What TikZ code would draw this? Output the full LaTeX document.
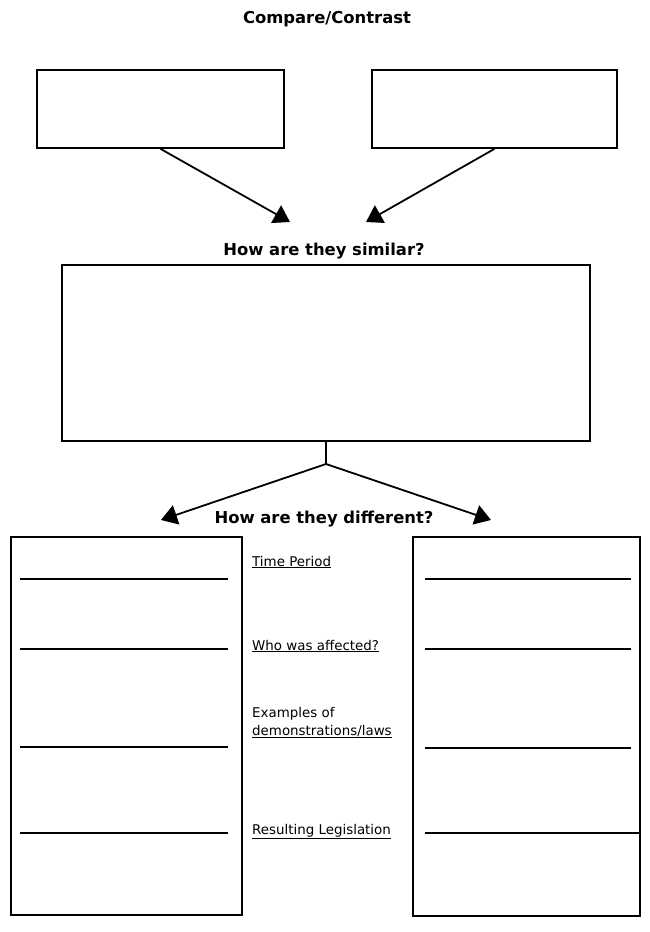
\documentclass[tikz,border=0pt]{standalone}
\usepackage{fontspec}
\setmainfont{DejaVu Sans}
\usetikzlibrary{arrows.meta}
\tikzset{
  box/.style={draw, line width=1.7pt, minimum width=#1, inner sep=0pt},
  arr/.style={-{Triangle[width=20pt,length=16pt]}, line width=1.8pt},
  heading/.style={font=\fontsize{16.4}{19}\selectfont\bfseries, inner sep=0pt},
  lbl/.style={font=\fontsize{13.4}{18}\selectfont, anchor=base west, inner sep=0pt, align=left},
  rule/.style={line width=1.7pt}
}
\begin{document}
\begin{tikzpicture}[x=1pt,y=-1pt]
          \useasboundingbox (0,0) rectangle (649,932);
          % title
          \node[heading] (title) at (327,19) {Compare/Contrast};
          % top boxes
          \node[box=247pt, minimum height=78pt] (first) at (160.5,109) {};
          \node[box=245pt, minimum height=78pt] (second) at (494.5,109) {};
          \coordinate (tipl) at (290,222);
          \coordinate (tipr) at (366,222);
          \draw[arr] (first.south) -- (tipl);
          \draw[arr] (second.south) -- (tipr);
          % similar
          \node[heading] (similar) at (324,251) {How are they similar?};
          \node[box=528pt, minimum height=176pt] (same) at (326,353) {};
          \coordinate (fork) at (326,464);
          \coordinate (tipa) at (161,520);
          \coordinate (tipb) at (491,520);
          \draw[line width=1.8pt] (same.south) -- (fork);
          \draw[arr] (fork) -- (tipa);
          \draw[arr] (fork) -- (tipb);
          % different
          \node[heading] (different) at (324,519) {How are they different?};
          \node[box=231pt, minimum height=378pt] (left) at (126.5,726) {};
          \node[box=227pt, minimum height=379pt] (right) at (526.5,726.5) {};
          % lines
          \foreach \y in {579,649,747,833} {
            \draw[rule] (20,\y) -- (228,\y);
          }
          \foreach \y in {579,649,748} {
            \draw[rule] (425,\y) -- (631,\y);
          }
          \draw[rule] (425,833) -- (641,833);
          % labels
          \node[lbl] (period) at (252,566) {\underline{Time Period}};
          \node[lbl] (who) at (252,650) {\underline{Who was affected?}};
          \node[lbl] (examples) at (252,735) {Examples of\\\underline{demonstrations/laws}};
          \node[lbl] (result) at (252,834) {\underline{Resulting Legislation}};
        \end{tikzpicture}
\end{document}
